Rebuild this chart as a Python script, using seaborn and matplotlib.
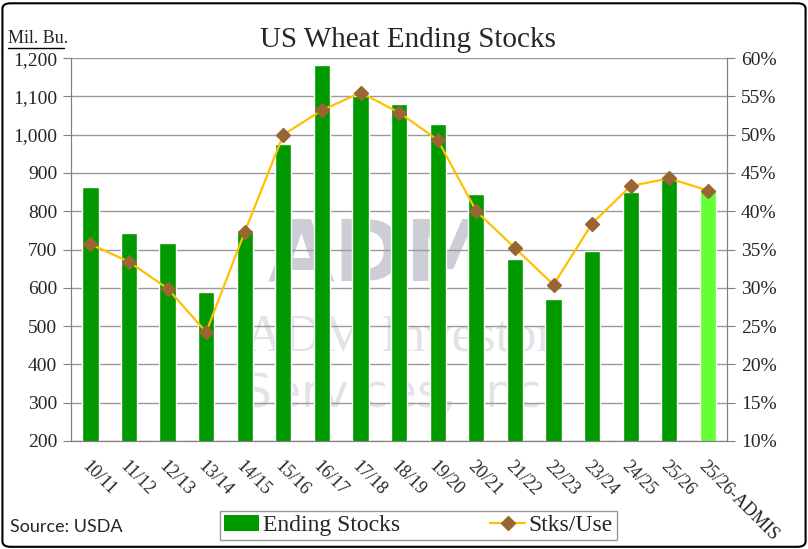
import numpy as np
import pandas as pd
import matplotlib
matplotlib.use("Agg")
import matplotlib.pyplot as plt
from matplotlib.lines import Line2D
from matplotlib.patches import Patch, FancyBboxPatch
from matplotlib.ticker import FuncFormatter, MultipleLocator
import seaborn as sns

seasons = ['10/11', '11/12', '12/13', '13/14', '14/15', '15/16', '16/17', '17/18',
           '18/19', '19/20', '20/21', '21/22', '22/23', '23/24', '24/25', '25/26',
           '25/26-ADMIS']
ending_stocks = [863, 743, 718, 590, 752, 976, 1181, 1100, 1080, 1028, 845, 674,
                 570, 696, 851, 889, 858]
stks_use = [35.7, 33.4, 29.9, 24.2, 37.3, 50.0, 53.2, 55.5, 52.9, 49.3, 40.0, 35.2,
            30.4, 38.4, 43.3, 44.3, 42.7]

dark_green = '#009900'
light_green = '#66ff33'
line_col = '#ffc000'
marker_col = '#996633'

df = pd.DataFrame({'season': seasons, 'stocks': ending_stocks, 'ratio': stks_use})
bar_colors = [dark_green] * (len(seasons) - 1) + [light_green]

sns.set_style('white')
serif = ['Liberation Serif', 'DejaVu Serif']
plt.rcParams['font.family'] = serif

fig = plt.figure(figsize=(8.08, 5.49), dpi=100)
ax = fig.add_axes([0.088, 0.197, 0.812, 0.697])

# watermark behind everything
ax.text(0.47, 0.48, 'ADM', transform=ax.transAxes, ha='center', va='center',
        fontsize=62, fontweight='bold', color='#cdcdd6', family='DejaVu Sans', zorder=0)
ax.text(0.5, 0.27, 'ADM Investor', transform=ax.transAxes, ha='center', va='center',
        fontsize=38, color='#e2e2e8', family='Liberation Serif', zorder=0)
ax.text(0.5, 0.12, 'Services, Inc.', transform=ax.transAxes, ha='center', va='center',
        fontsize=34, color='#e2e2e8', family='DejaVu Sans', zorder=0)

sns.barplot(data=df, x='season', y='stocks', hue='season', palette=bar_colors,
            legend=False, width=0.42, ax=ax, saturation=1, zorder=2)
ax.set_ylim(200, 1200)
ax.set_xlim(-0.5, len(seasons) - 0.5)
ax.yaxis.set_major_locator(MultipleLocator(100))
ax.yaxis.set_major_formatter(FuncFormatter(lambda v, p: f'{int(v):,}'))
ax.grid(axis='y', color='#9a9a9a', linewidth=1, zorder=1)
ax.set_axisbelow(True)
ax.set_xlabel('')
ax.set_ylabel('')

for s in ['left', 'right', 'bottom']:
    ax.spines[s].set_color('#808080')
ax.spines['top'].set_visible(False)

ax.set_xticks(range(len(seasons)))
ax.set_xticklabels(seasons, rotation=-45, ha='left', va='top', rotation_mode='anchor',
                   fontsize=13)
ax.tick_params(axis='x', length=0, pad=12)
ax.set_xticks(np.arange(-0.5, len(seasons), 1), minor=True)
ax.tick_params(axis='x', which='minor', length=6, color='#808080', direction='out')
ax.tick_params(axis='y', length=6, color='#808080', direction='out', labelsize=14, pad=4)

ax2 = ax.twinx()
ax2.plot(np.arange(len(seasons)), df['ratio'], color=line_col, linewidth=1.6,
         marker='D', markersize=7, markerfacecolor=marker_col,
         markeredgecolor=marker_col, zorder=3)
ax2.set_ylim(10, 60)
ax2.yaxis.set_major_locator(MultipleLocator(5))
ax2.yaxis.set_major_formatter(FuncFormatter(lambda v, p: f'{int(v)}%'))
ax2.tick_params(axis='y', length=6, color='#808080', direction='out', labelsize=14, pad=4)
for s in ['left', 'right', 'bottom']:
    ax2.spines[s].set_color('#808080')
ax2.spines['top'].set_visible(False)

fig.text(0.505, 0.928, 'US Wheat Ending Stocks', ha='center', va='center', fontsize=21)
fig.text(0.01, 0.93, 'Mil. Bu.', ha='left', va='center', fontsize=13)
fig.add_artist(Line2D([0.01, 0.079], [0.913, 0.913], color='black', linewidth=1,
                      transform=fig.transFigure))
fig.text(0.012, 0.04, 'Source: USDA', ha='left', va='center', fontsize=13,
         family='Lato')

handles = [Patch(facecolor=dark_green, edgecolor='none'),
           Line2D([], [], color=line_col, marker='D', markersize=7,
                  markerfacecolor=marker_col, markeredgecolor=marker_col, linewidth=1.6)]
fig.legend(handles, ['Ending Stocks', 'Stks/Use'], loc='center', ncol=2,
           bbox_to_anchor=(0.518, 0.043), fontsize=17, frameon=True, fancybox=False,
           edgecolor='#808080', borderpad=0.15, handlelength=1.5, handletextpad=0.15,
           columnspacing=3.8, borderaxespad=0)

fig.add_artist(FancyBboxPatch((0.003, 0.004), 0.994, 0.99,
                              boxstyle='round,pad=0,rounding_size=0.01',
                              transform=fig.transFigure, fill=False,
                              edgecolor='black', linewidth=1.5))

fig.savefig('out.png', dpi=100)
